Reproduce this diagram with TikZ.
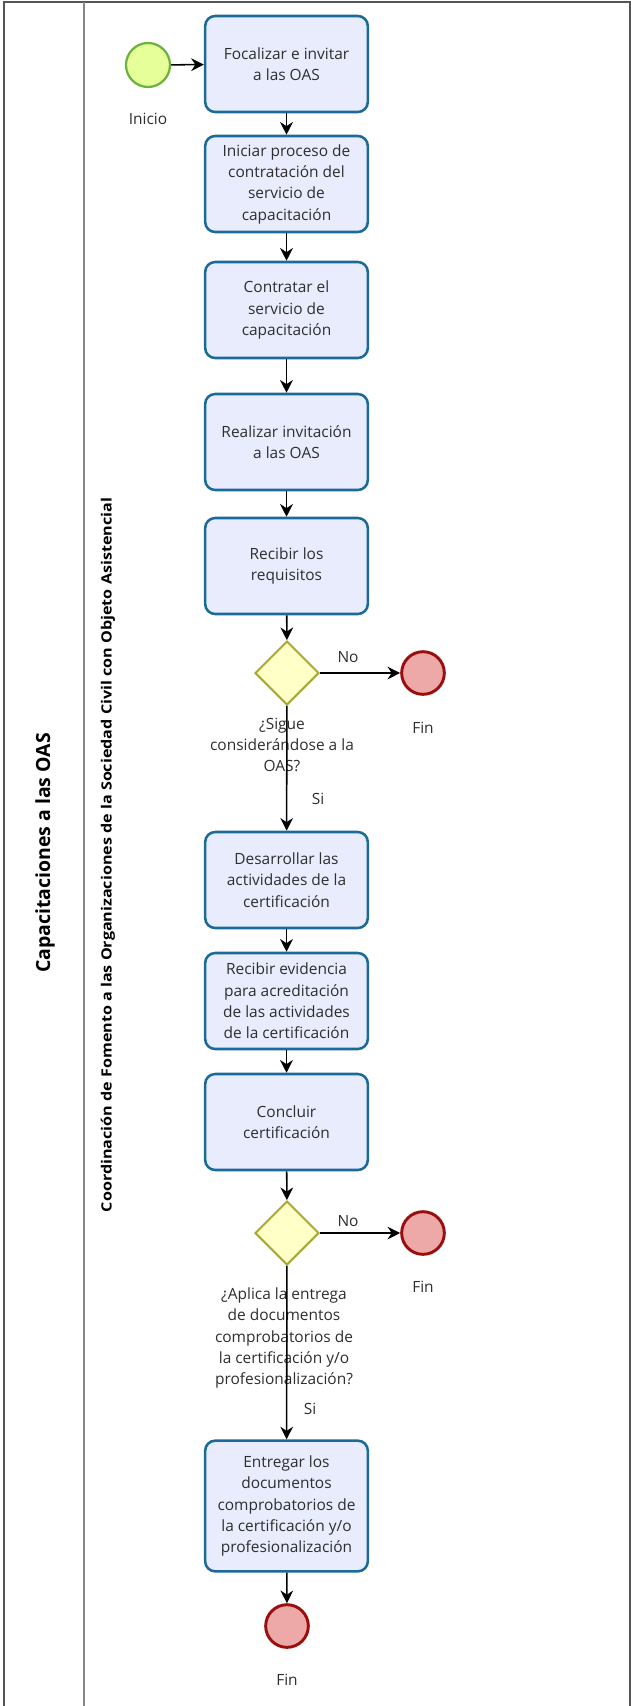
\documentclass[tikz,border=0pt]{standalone}
\usepackage{fontspec}
\setmainfont{Open Sans}
\usetikzlibrary{shapes.geometric,arrows.meta}
\definecolor{taskblue}{HTML}{1B6A9A}
\definecolor{taskfill}{HTML}{E8ECFD}
\definecolor{gatefill}{HTML}{FFFFC8}
\definecolor{gateline}{HTML}{A8A832}
\definecolor{startfill}{HTML}{E6FF99}
\definecolor{startline}{HTML}{6DB33F}
\definecolor{endfill}{HTML}{EDA8A8}
\definecolor{endline}{HTML}{9B0E0E}
\definecolor{txt}{HTML}{2E2E2E}
\definecolor{framec}{HTML}{555555}
\begin{document}
\begin{tikzpicture}[x=0.75pt,y=-0.75pt,
  task/.style={draw=taskblue, fill=taskfill, line width=1.9pt, rounded corners=7.5pt,
    minimum width=122pt, minimum height=72pt, align=center, text=txt, inner sep=2pt,
    font=\fontsize{11.6}{16}\selectfont},
  gate/.style={diamond, aspect=1, draw=gateline, fill=gatefill, line width=1.5pt,
    minimum size=48pt, inner sep=0pt},
  startev/.style={circle, draw=startline, fill=startfill, line width=1.7pt,
    minimum size=33pt, inner sep=0pt},
  endev/.style={circle, draw=endline, fill=endfill, line width=2.2pt,
    minimum size=32pt, inner sep=0pt},
  lbl/.style={text=txt, align=center, font=\fontsize{11.6}{16}\selectfont, inner sep=0pt},
  flow/.style={-{Stealth[length=9.5pt,width=9.5pt]}, line width=1.15pt, black},
]
\useasboundingbox (0,0) rectangle (631,1706);
% pool frame
\draw[framec, line width=1.4pt] (4,1706) -- (4,2) -- (630,2) -- (630,1706);
\draw[framec!70, line width=1.2pt] (84,2) -- (84,1706);
\node[rotate=90, font=\bfseries\fontsize{14.6}{16}\selectfont, text=black] (pool) at (45,853) {Capacitaciones a las OAS};
\node[rotate=90, font=\bfseries\fontsize{10.6}{12}\selectfont, text=black] (lane) at (108,855) {\scalebox{1.14}[1]{Coordinación de Fomento a las Organizaciones de la Sociedad Civil con Objeto Asistencial}};

% events
\node[startev] (ini) at (148,65) {};
\node[lbl] (iniL) at (148,119) {Inicio};

% tasks
\node[task] (t1) at (286.5,64) {Focalizar e invitar\\a las OAS};
\node[task] (t2) at (286.5,184) {Iniciar proceso de\\contratación del\\servicio de\\capacitación};
\node[task] (t3) at (286.5,310) {Contratar el\\servicio de\\capacitación};
\node[task] (t4) at (286.5,442) {Realizar invitación\\a las OAS};
\node[task] (t5) at (286.5,566) {Recibir los\\requisitos};
\node[gate] (g1) at (287,673) {};
\node[endev] (f1) at (423,673) {};
\node[lbl] (f1L) at (423,728) {Fin};
\node[lbl] (g1L) at (282,745) {¿Sigue\\considerándose a la\\OAS?};
\node[lbl] (no1) at (348,657) {No};
\node[lbl] (si1) at (318,799) {Si};

\node[task] (t6) at (286.5,880) {Desarrollar las\\actividades de la\\certificación};
\node[task] (t7) at (286.5,1001) {Recibir evidencia\\para acreditación\\de las actividades\\de la certificación};
\node[task] (t8) at (286.5,1122) {Concluir\\certificación};
\node[gate] (g2) at (287,1233) {};
\node[endev] (f2) at (423,1233) {};
\node[lbl] (f2L) at (423,1287) {Fin};
\node[lbl] (g2L) at (284,1338) {¿Aplica la entrega\\de documentos\\comprobatorios de\\la certificación y/o\\profesionalización?};
\node[lbl] (no2) at (348,1221) {No};
\node[lbl] (si2) at (310,1409) {Si};

\node[task, minimum height=98pt] (t9) at (286.5,1506) {Entregar los\\documentos\\comprobatorios de\\la certificación y/o\\profesionalización};
\node[endev] (f3) at (287,1626) {};
\node[lbl] (f3L) at (287,1680) {Fin};

% flows
\draw[flow] (ini) -- (t1);
\draw[flow] (t1) -- (t2);
\draw[flow] (t2) -- (t3);
\draw[flow] (t3) -- (t4);
\draw[flow] (t4) -- (t5);
\draw[flow] (t5) -- (g1);
\draw[flow] (g1) -- (f1);
\draw[flow] (g1) -- (t6);
\draw[flow] (t6) -- (t7);
\draw[flow] (t7) -- (t8);
\draw[flow] (t8) -- (g2);
\draw[flow] (g2) -- (f2);
\draw[flow] (g2) -- (t9);
\draw[flow] (t9) -- (f3);
\end{tikzpicture}
\end{document}
